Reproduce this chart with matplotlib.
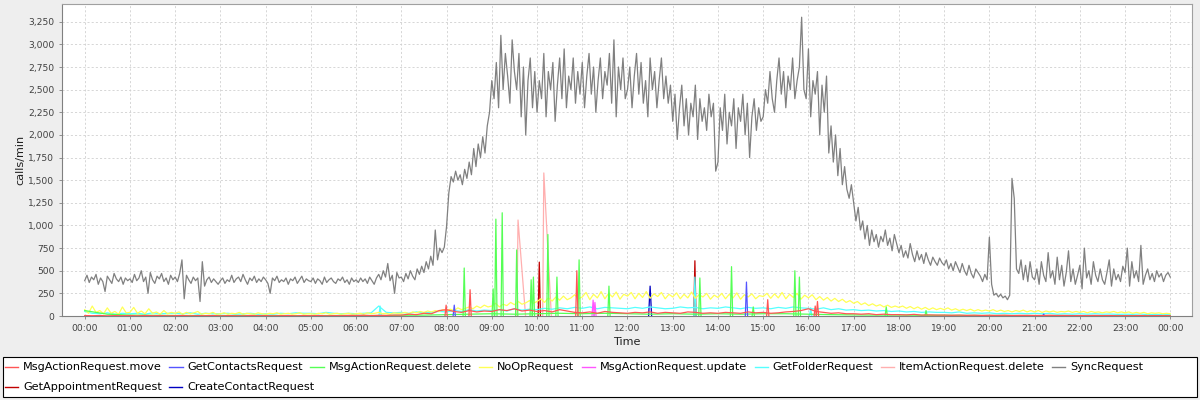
import numpy as np
import matplotlib
matplotlib.use("Agg")
import matplotlib.pyplot as plt
from matplotlib.ticker import FuncFormatter, MultipleLocator
from matplotlib.lines import Line2D
from matplotlib.patches import Rectangle

# ---------------- data ----------------
series_names = ["MsgActionRequest.move", "GetContactsRequest", "MsgActionRequest.delete",
                "NoOpRequest", "MsgActionRequest.update", "GetFolderRequest",
                "ItemActionRequest.delete", "SyncRequest", "GetAppointmentRequest",
                "CreateContactRequest"]
series_colors = ["#FF5555", "#5555FF", "#55FF55", "#FFFF55", "#FF55FF", "#55FFFF",
                 "#FFAFAF", "#808080", "#C00000", "#0000C0"]

# SyncRequest, calls/min every 3 minutes from 00:00 to 24:00 (20 values per hour)
sync_3min = [
    390, 450, 370, 430, 400, 460, 350, 420, 380, 270, 440, 400, 360, 470, 410, 380, 430, 350, 420, 390,
    410, 370, 460, 390, 420, 500, 380, 430, 250, 480, 400, 360, 440, 410, 470, 380, 420, 350, 450, 400,
    430, 380, 470, 620, 190, 450, 400, 360, 430, 390, 420, 160, 600, 330, 400, 430, 370, 410, 380, 350,
    390, 420, 360, 400, 380, 450, 370, 410, 430, 380, 460, 400, 350, 420, 390, 440, 370, 410, 380, 430,
    400, 360, 250, 420, 390, 440, 370, 400, 380, 420, 350, 410, 390, 430, 360, 400, 440, 370, 410, 390,
    380, 420, 360, 410, 390, 350, 430, 370, 400, 420, 380, 360, 410, 390, 430, 370, 400, 350, 420, 380,
    400, 370, 420, 380, 410, 360, 430, 390, 350, 420, 460, 400, 500, 430, 580, 390, 450, 250, 480, 420,
    430, 380, 470, 410, 500, 440, 400, 520, 460, 550, 480, 600, 520, 660, 560, 950, 620, 750, 700, 760,
    990, 1360, 1540, 1480, 1600, 1500, 1560, 1450, 1620, 1520, 1700, 1560, 1850, 1650, 1900, 1750, 1980, 1800, 2100, 2250,
    2600, 2400, 2800, 2300, 3100, 2500, 2900, 2650, 2350, 3050, 2700, 2500, 2900, 2200, 2750, 2000, 2600, 2850, 2300, 2700,
    2250, 2600, 2400, 2900, 2200, 2700, 2500, 2800, 2150, 2550, 2850, 2400, 2950, 2300, 2650, 2500, 2850, 2350, 2700, 2450,
    2800, 2300, 2650, 2900, 2450, 2750, 2250, 2600, 2850, 2400, 2700, 2550, 2900, 2350, 3050, 2200, 2750, 2500, 2850, 2400,
    2500, 2750, 2300, 2650, 2900, 2450, 2800, 2350, 2600, 2200, 2850, 2500, 2700, 2300, 2600, 2850, 2400, 2650, 2350, 2550,
    2150, 2450, 1950, 2300, 2550, 2100, 2400, 2000, 2350, 2200, 2550, 1950, 2400, 2150, 2300, 2050, 2450, 2200, 2350, 1600,
    1700, 2300, 2050, 2450, 1900, 2250, 2100, 2400, 1850, 2300, 2150, 2450, 2000, 2350, 1750, 2200, 2400, 2050, 2300, 2150,
    2200, 2500, 2350, 2700, 2400, 2250, 2600, 2850, 2450, 2700, 2300, 2650, 2500, 2850, 2400, 2600, 2750, 3300, 2500, 2400,
    2950, 2200, 2600, 2450, 2700, 2000, 2550, 2250, 2650, 1800, 2100, 1700, 2000, 1550, 1850, 1450, 1650, 1400, 1300, 1450,
    1250, 1050, 1200, 950, 1050, 850, 1000, 780, 950, 820, 900, 760, 880, 820, 950, 780, 860, 720, 900, 800,
    700, 780, 650, 720, 640, 800, 680, 600, 720, 620, 680, 580, 700, 620, 560, 650, 600, 560, 640, 590,
    560, 620, 520, 580, 500, 600, 540, 480, 580, 500, 450, 560, 470, 420, 520, 480, 440, 380, 460, 400,
    870, 350, 230, 250, 210, 240, 200, 220, 180, 230, 1520, 1300, 520, 470, 620, 400, 560, 380, 600, 430,
    400, 520, 350, 600, 450, 380, 700, 420, 500, 350, 650, 400, 560, 330, 480, 720, 380, 520, 350, 450,
    560, 300, 750, 420, 500, 350, 600, 450, 380, 520, 400, 350, 480, 620, 330, 520, 400, 460, 380, 550,
    480, 750, 330, 600, 420, 500, 380, 780, 350, 450, 520, 400, 470, 380, 500, 430, 470, 380, 450, 480,
    430,
]

# NoOpRequest every 5 minutes (12 values per hour)
noop_5min = [
    70, 30, 110, 40, 60, 25, 90, 30, 50, 20, 100, 35,
    40, 95, 30, 55, 25, 80, 30, 45, 20, 60, 25, 40,
    30, 45, 20, 40, 25, 35, 50, 20, 30, 25, 40, 20,
    25, 35, 20, 30, 25, 40, 20, 30, 25, 20, 35, 25,
    20, 30, 25, 35, 20, 25, 30, 20, 25, 35, 20, 25,
    25, 20, 30, 25, 35, 20, 25, 30, 20, 25, 30, 20,
    25, 30, 20, 35, 25, 30, 40, 25, 30, 20, 35, 30,
    30, 40, 25, 45, 35, 50, 40, 55, 45, 60, 50, 70,
    55, 75, 60, 90, 70, 85, 100, 80, 110, 90, 120, 100,
    110, 140, 100, 130, 115, 150, 125, 160, 130, 145, 170, 140,
    160, 190, 150, 200, 165, 210, 175, 220, 180, 200, 235, 190,
    210, 260, 180, 240, 200, 270, 190, 250, 210, 265, 185, 240,
    220, 260, 190, 250, 205, 270, 195, 245, 215, 260, 190, 240,
    210, 255, 190, 240, 200, 265, 195, 235, 210, 250, 185, 230,
    205, 250, 190, 240, 200, 255, 185, 235, 210, 245, 190, 225,
    215, 250, 195, 245, 200, 260, 190, 240, 205, 250, 185, 230,
    200, 235, 180, 215, 175, 205, 165, 195, 160, 185, 150, 170,
    140, 160, 125, 145, 115, 135, 110, 125, 100, 120, 95, 110,
    95, 110, 85, 105, 80, 100, 75, 95, 70, 90, 70, 85,
    70, 90, 65, 80, 60, 75, 60, 75, 55, 70, 55, 65,
    55, 70, 50, 65, 50, 60, 45, 60, 50, 65, 45, 60,
    45, 60, 40, 55, 45, 55, 40, 50, 45, 55, 40, 50,
    40, 50, 35, 50, 40, 45, 35, 45, 40, 50, 35, 45,
    35, 45, 30, 40, 30, 40, 25, 35, 30, 35, 25, 30,
    25,
]

# GetFolderRequest every 10 minutes
folder_10min = [
    50, 30, 25, 35, 20, 30,
    25, 30, 20, 35, 25, 30,
    30, 25, 35, 20, 30, 25,
    25, 30, 20, 25, 30, 20,
    25, 20, 30, 25, 35, 30,
    30, 25, 40, 30, 25, 30,
    25, 30, 35, 110, 40, 35,
    40, 30, 45, 35, 40, 50,
    45, 60, 50, 70, 55, 65,
    60, 70, 55, 80, 65, 75,
    70, 85, 75, 90, 80, 95,
    85, 100, 80, 95, 90, 85,
    80, 95, 85, 100, 90, 80,
    85, 100, 90, 95, 80, 90,
    85, 100, 90, 80, 95, 85,
    90, 80, 95, 85, 100, 90,
    85, 75, 90, 70, 80, 65,
    70, 60, 65, 55, 60, 50,
    55, 45, 50, 40, 45, 40,
    40, 35, 45, 30, 35, 30,
    35, 25, 30, 25, 30, 25,
    30, 25, 30, 20, 25, 20,
    25, 20, 25, 20, 22, 18,
    20, 18, 22, 15, 18, 15,
    15,
]

# MsgActionRequest.move every 10 minutes
move_10min = [
    5, 3, 5, 2, 4, 3,
    4, 2, 5, 3, 4, 2,
    3, 5, 2, 4, 3, 5,
    2, 4, 3, 2, 5, 3,
    4, 2, 3, 5, 2, 4,
    3, 5, 2, 4, 3, 6,
    5, 8, 4, 7, 6, 10,
    10, 20, 15, 30, 25, 60,
    70, 50, 40, 60, 45, 55,
    50, 70, 60, 80, 55, 65,
    50, 60, 45, 70, 55, 40,
    35, 45, 30, 50, 40, 35,
    30, 40, 35, 45, 30, 40,
    35, 30, 45, 40, 30, 35,
    30, 40, 35, 30, 45, 35,
    40, 30, 35, 45, 50, 60,
    80, 50, 40, 30, 35, 25,
    25, 20, 25, 15, 20, 15,
    15, 12, 18, 10, 12, 10,
    10, 8, 10, 7, 9, 6,
    8, 6, 9, 5, 7, 6,
    6, 5, 8, 5, 6, 4,
    5, 4, 6, 4, 5, 3,
    4, 3, 5, 3, 4, 3,
    3,
]

# MsgActionRequest.delete every 30 minutes (baseline)
delete_30min = [60, 20, 10, 8, 6, 5, 5, 6, 5, 4, 5, 5, 6, 5, 8, 10,
                15, 20, 25, 20, 25, 30, 25, 30, 25, 20, 25, 20, 25, 20,
                25, 25, 20, 15, 12, 10, 10, 8, 8, 6, 6, 5, 5, 5, 4, 4, 4, 3, 3]

# short bursts: (hour of day, calls/min)
delete_spikes = [(8.39, 530), (9.03, 300), (9.09, 1070), (9.23, 1140), (9.55, 730),
                 (9.87, 400), (9.92, 430), (10.24, 900), (10.44, 430), (10.93, 620),
                 (11.59, 330), (13.60, 420), (14.30, 545), (14.78, 100), (15.70, 500),
                 (15.80, 430), (17.72, 100), (18.60, 60)]
move_spikes = [(7.99, 120), (8.52, 290), (10.88, 500), (15.10, 180), (16.15, 110), (16.20, 160)]
folder_spikes = [(6.53, 110), (13.49, 430), (16.05, 90)]
contacts_spikes = [(8.17, 120), (14.63, 375), (21.20, 20)]
update_spikes = [(11.24, 175), (11.28, 150)]
itemdelete_spikes = [(9.58, 1060), (10.15, 1580)]
appointment_spikes = [(10.05, 595), (13.49, 610)]
createcontact_spikes = [(12.50, 330)]

# ---------------- figure ----------------
plt.rcParams['font.family'] = ['DejaVu Sans']
fig = plt.figure(figsize=(12, 4), dpi=100, facecolor="#EEEEEE")
ax = fig.add_axes([62 / 1200, 84 / 400, 1130 / 1200, 312 / 400])
ax.set_facecolor("white")

t3 = np.arange(len(sync_3min)) * 3 / 60
t5 = np.arange(len(noop_5min)) * 5 / 60
t10 = np.arange(len(folder_10min)) * 10 / 60
t30 = np.arange(len(delete_30min)) * 30 / 60

LW = 0.9
HW = 1.5 / 60  # half width of a one-sample burst, in hours


def draw_spikes(spikes, color, z, hw=HW, right=None):
    for t, v in spikes:
        r = hw if right is None else right
        ax.plot([t - hw, t, t + r], [0, v, 0], color=color, lw=LW, zorder=z)


# JFreeChart renders series in reverse order (first series on top)
c = dict(zip(series_names, series_colors))
draw_spikes(createcontact_spikes, c["CreateContactRequest"], 1, hw=2 / 60)
draw_spikes(appointment_spikes, c["GetAppointmentRequest"], 2)
ax.plot(t3, sync_3min, color=c["SyncRequest"], lw=LW, zorder=3)
draw_spikes(itemdelete_spikes, c["ItemActionRequest.delete"], 4, hw=1.5 / 60, right=10 / 60)
ax.plot(t10, folder_10min, color=c["GetFolderRequest"], lw=LW, zorder=5)
draw_spikes(folder_spikes, c["GetFolderRequest"], 5)
draw_spikes(update_spikes, c["MsgActionRequest.update"], 6)
ax.plot(t5, noop_5min, color=c["NoOpRequest"], lw=LW, zorder=7)
ax.plot(t30, delete_30min, color=c["MsgActionRequest.delete"], lw=LW, zorder=8)
draw_spikes(delete_spikes, c["MsgActionRequest.delete"], 8)
draw_spikes(contacts_spikes, c["GetContactsRequest"], 9)
ax.plot(t10, move_10min, color=c["MsgActionRequest.move"], lw=LW, zorder=10)
draw_spikes(move_spikes, c["MsgActionRequest.move"], 10)

ax.set_xlim(-0.502, 24.48)
ax.set_ylim(0, 3446)

ax.xaxis.set_major_locator(MultipleLocator(1))
ax.xaxis.set_major_formatter(FuncFormatter(lambda x, p: "%02d:00" % (int(round(x)) % 24)))
ax.yaxis.set_major_locator(MultipleLocator(250))
ax.yaxis.set_major_formatter(FuncFormatter(lambda y, p: "{:,.0f}".format(y)))

ax.grid(True, color="#D0D0D0", linestyle=(0, (2.5, 2.5)), linewidth=0.6)
ax.set_axisbelow(True)
ax.tick_params(axis="both", direction="out", length=2.5, width=0.6, color="#808080",
               labelsize=6.6, labelcolor="#404040", pad=3)
for s in ax.spines.values():
    s.set_color("#A0A0A0")
    s.set_linewidth(0.8)
ax.spines["left"].set_color("#808080")
ax.spines["bottom"].set_color("#808080")

ax.set_xlabel("Time", fontsize=8.1, color="#202020", labelpad=3)
ax.set_ylabel("calls/min", fontsize=8.1, color="#202020", labelpad=2)

# legend box spanning the width, items flowing row by row
fig.patches.append(Rectangle((3 / 1200, 3 / 400), 1194 / 1200, 40 / 400, transform=fig.transFigure,
                             facecolor="white", edgecolor="black", linewidth=0.8, zorder=0))
legend_rows = [[0, 1, 2, 3, 4, 5, 6, 7], [8, 9]]
row_tops = [362.5, 382.5]
for row, top in zip(legend_rows, row_tops):
    handles = [Line2D([], [], color=series_colors[i], lw=1.0) for i in row]
    labels = [series_names[i] for i in row]
    fig.legend(handles, labels, ncol=len(row), loc="upper left",
               bbox_to_anchor=(5 / 1200, 1 - top / 400),
               frameon=False, fontsize=8.1, handlelength=1.17, handletextpad=0.45,
               columnspacing=0.65, borderpad=0, borderaxespad=0)

fig.savefig("out.png", dpi=100, facecolor=fig.get_facecolor())
